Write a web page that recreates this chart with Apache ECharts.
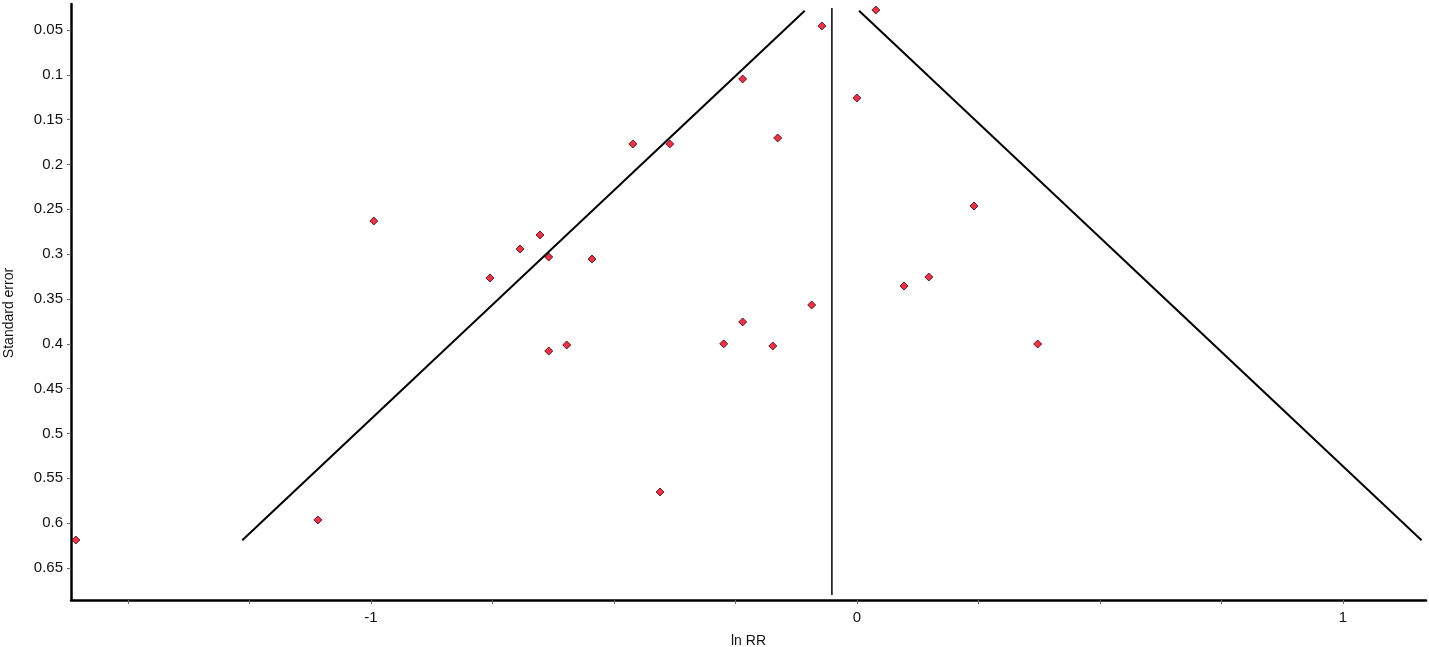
<!DOCTYPE html>
<html>
<head>
<meta charset="utf-8">
<script src="https://cdn.jsdelivr.net/npm/echarts@6/dist/echarts.min.js"></script>
<style>
  html, body { margin: 0; padding: 0; background: #fff; }
  #chart { width: 1429px; height: 647px; }
</style>
</head>
<body>
<div id="chart"></div>
<script>
// study estimates (ln RR) and their standard errors
const lnRR = [
  0.039, -0.072, -0.235, 0.000, -0.163, -0.461, -0.385, 0.241, -0.994,
  -0.652, -0.693, -0.634, -0.545, -0.755, 0.148, 0.097, -0.093, -0.235,
  -0.597, -0.634, -0.274, -0.173, 0.372, -0.405, -1.109, -1.607
];
const stdErr = [
  0.0277, 0.0455, 0.1046, 0.1258, 0.1704, 0.1771, 0.1771, 0.2463, 0.263,
  0.2786, 0.2942, 0.3032, 0.3054, 0.3266, 0.3255, 0.3355, 0.3567, 0.3756,
  0.4013, 0.408, 0.4, 0.4024, 0.4002, 0.5652, 0.5964, 0.6188
];

// pooled estimate and funnel limits (pooled +/- 1.96*se)
const pooled = -0.0514;
const funnelSe = [0.0285, 0.619];
const pooledLineSe = [0.0255, 0.68];

// tick values
const xTicks = [-1.5, -1.25, -1, -0.75, -0.5, -0.25, 0, 0.25, 0.5, 0.75, 1];
const xLabels = [-1, 0, 1];
const yTicks = [0.05, 0.1, 0.15, 0.2, 0.25, 0.3, 0.35, 0.4, 0.45, 0.5, 0.55, 0.6, 0.65];

const points = lnRR.map((v, i) => [v, stdErr[i]]);
const leftLimit = funnelSe.map(s => [pooled - 1.96 * s, s]);
const rightLimit = funnelSe.map(s => [pooled + 1.96 * s, s]);
const pooledLine = pooledLineSe.map(s => [pooled, s]);

const chart = echarts.init(document.getElementById("chart"));

const font = "Liberation Sans";
const lineStyle = { color: "#000", width: 2 };

chart.setOption({
  animation: false,
  backgroundColor: "#fff",
  grid: { left: 71, right: 3, top: 4, bottom: 47, outerBoundsMode: "none", containLabel: false },
  xAxis: {
    type: "value",
    min: -1.617,
    max: 1.171,
    name: "ln RR",
    nameLocation: "middle",
    nameGap: 34,
    nameTextStyle: { color: "#111", fontSize: 14, fontFamily: font },
    axisLine: { onZero: false, lineStyle: { color: "#000", width: 2.5 } },
    axisTick: { show: true, length: 4, customValues: xTicks, lineStyle: { color: "#666", width: 1 } },
    axisLabel: { customValues: xLabels, color: "#111", fontSize: 15, margin: 10, fontFamily: font },
    splitLine: { show: false }
  },
  yAxis: {
    type: "value",
    inverse: true,
    min: 0.021,
    max: 0.6857,
    name: "Standard error",
    nameLocation: "middle",
    nameGap: 55,
    nameTextStyle: { color: "#111", fontSize: 14, fontFamily: font, padding: [0, 22, 0, 0] },
    axisLine: { show: true, onZero: false, lineStyle: { color: "#000", width: 2.5 } },
    axisTick: { show: true, length: 4, customValues: yTicks, lineStyle: { color: "#666", width: 1 } },
    axisLabel: {
      customValues: yTicks, color: "#111", fontSize: 15, margin: 8, fontFamily: font,
      formatter: v => String(+v.toFixed(2))
    },
    splitLine: { show: false }
  },
  series: [
    {
      type: "line",
      data: leftLimit,
      symbol: "none",
      lineStyle: lineStyle,
      silent: true
    },
    {
      type: "line",
      data: rightLimit,
      symbol: "none",
      lineStyle: lineStyle,
      silent: true
    },
    {
      type: "line",
      data: pooledLine,
      symbol: "none",
      lineStyle: { color: "#000", width: 1.5 },
      silent: true
    },
    {
      type: "scatter",
      data: points,
      symbol: "diamond",
      symbolSize: 8,
      itemStyle: { color: "#e3001b", borderColor: "#3a0006", borderWidth: 1 }
    }
  ]
});

window.addEventListener("resize", () => chart.resize());
</script>
</body>
</html>
